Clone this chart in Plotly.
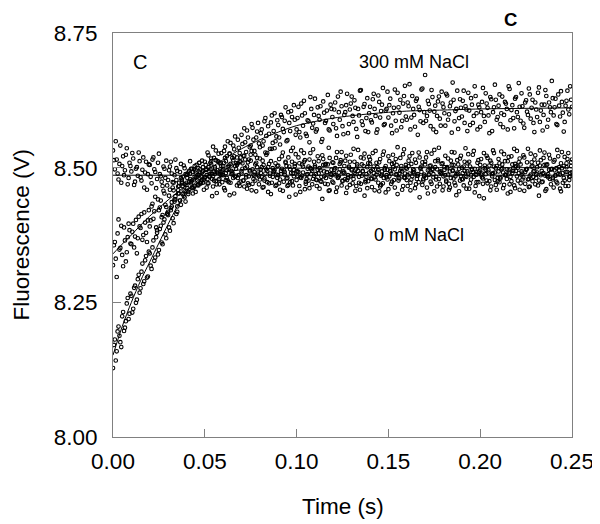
import numpy as np
import plotly.graph_objects as go

# sample times (s): whole-ms samples and half-ms samples
time_s = np.round(np.arange(251) * 0.001, 4)
time_half_s = np.round(np.arange(250) * 0.001 + 0.0005, 4)

# ---- 0 mM NaCl data (V) ----
nacl_0mM = [
    8.128, 8.181, 8.159, 8.205, 8.176, 8.224, 8.197, 8.215, 8.258, 8.229,
    8.262, 8.238, 8.281, 8.255, 8.301, 8.276, 8.322, 8.289, 8.336, 8.298,
    8.341, 8.312, 8.365, 8.333, 8.379, 8.347, 8.392, 8.358, 8.404, 8.369,
    8.412, 8.383, 8.428, 8.397, 8.441, 8.418, 8.452, 8.431, 8.466, 8.445,
    8.472, 8.451, 8.489, 8.463, 8.478, 8.495, 8.468, 8.486, 8.474, 8.501,
    8.482, 8.497, 8.471, 8.509, 8.488, 8.476, 8.514, 8.491, 8.479, 8.503,
    8.486, 8.518, 8.495, 8.473, 8.507, 8.489, 8.521, 8.498, 8.481, 8.512,
    8.493, 8.476, 8.515, 8.502, 8.468, 8.524, 8.497, 8.485, 8.509, 8.491,
    8.517, 8.483, 8.505, 8.528, 8.494, 8.471, 8.512, 8.499, 8.536, 8.487,
    8.504, 8.478, 8.521, 8.495, 8.511, 8.466, 8.502, 8.531, 8.489, 8.507,
    8.493, 8.519, 8.482, 8.506, 8.527, 8.474, 8.498, 8.515, 8.488, 8.534,
    8.501, 8.477, 8.512, 8.495, 8.523, 8.484, 8.507, 8.469, 8.518, 8.496,
    8.509, 8.486, 8.529, 8.491, 8.514, 8.475, 8.503, 8.522, 8.481, 8.511,
    8.497, 8.535, 8.488, 8.506, 8.472, 8.519, 8.494, 8.526, 8.483, 8.508,
    8.515, 8.479, 8.502, 8.531, 8.492, 8.510, 8.468, 8.524, 8.499, 8.486,
    8.521, 8.494, 8.507, 8.477, 8.516, 8.538, 8.489, 8.503, 8.525, 8.481,
    8.498, 8.513, 8.472, 8.527, 8.491, 8.509, 8.485, 8.519, 8.502, 8.476,
    8.511, 8.529, 8.487, 8.504, 8.496, 8.533, 8.478, 8.515, 8.492, 8.507,
    8.484, 8.522, 8.499, 8.470, 8.513, 8.495, 8.528, 8.488, 8.506, 8.517,
    8.479, 8.502, 8.536, 8.493, 8.511, 8.486, 8.524, 8.498, 8.473, 8.514,
    8.505, 8.489, 8.527, 8.496, 8.518, 8.475, 8.509, 8.532, 8.491, 8.503,
    8.516, 8.482, 8.499, 8.525, 8.487, 8.512, 8.469, 8.521, 8.494, 8.507,
    8.531, 8.490, 8.506, 8.478, 8.519, 8.497, 8.535, 8.484, 8.510, 8.493,
    8.523, 8.501, 8.476, 8.514, 8.489, 8.528, 8.505, 8.482, 8.517, 8.498,
    8.511, 8.486, 8.533, 8.495, 8.508, 8.472, 8.520, 8.501, 8.527, 8.490,
    8.515,
]
nacl_0mM_half = [
    8.171, 8.142, 8.196, 8.188, 8.167, 8.232, 8.203, 8.248, 8.219, 8.266,
    8.231, 8.277, 8.249, 8.293, 8.268, 8.307, 8.284, 8.328, 8.296, 8.344,
    8.318, 8.352, 8.327, 8.371, 8.339, 8.386, 8.361, 8.398, 8.376, 8.415,
    8.389, 8.421, 8.406, 8.437, 8.414, 8.458, 8.439, 8.471, 8.448, 8.437,
    8.481, 8.459, 8.474, 8.492, 8.466, 8.483, 8.499, 8.471, 8.491, 8.478,
    8.505, 8.479, 8.493, 8.517, 8.484, 8.498, 8.469, 8.511, 8.487, 8.495,
    8.509, 8.477, 8.501, 8.526, 8.488, 8.514, 8.483, 8.505, 8.471, 8.519,
    8.498, 8.522, 8.486, 8.510, 8.493, 8.531, 8.479, 8.506, 8.518, 8.484,
    8.497, 8.513, 8.476, 8.524, 8.501, 8.489, 8.535, 8.492, 8.508, 8.481,
    8.516, 8.494, 8.528, 8.487, 8.503, 8.519, 8.473, 8.511, 8.496, 8.525,
    8.485, 8.508, 8.532, 8.491, 8.514, 8.479, 8.502, 8.527, 8.494, 8.511,
    8.488, 8.521, 8.499, 8.474, 8.516, 8.505, 8.492, 8.537, 8.483, 8.510,
    8.496, 8.518, 8.481, 8.507, 8.529, 8.490, 8.513, 8.477, 8.502, 8.524,
    8.485, 8.511, 8.498, 8.533, 8.489, 8.506, 8.517, 8.473, 8.501, 8.520,
    8.494, 8.527, 8.482, 8.509, 8.496, 8.516, 8.487, 8.530, 8.503, 8.478,
    8.512, 8.489, 8.524, 8.497, 8.505, 8.481, 8.518, 8.493, 8.534, 8.500,
    8.486, 8.521, 8.507, 8.492, 8.515, 8.479, 8.528, 8.498, 8.510, 8.484,
    8.519, 8.495, 8.503, 8.526, 8.482, 8.512, 8.497, 8.537, 8.489, 8.508,
    8.501, 8.476, 8.517, 8.493, 8.529, 8.505, 8.484, 8.514, 8.498, 8.522,
    8.490, 8.511, 8.483, 8.525, 8.502, 8.496, 8.531, 8.487, 8.509, 8.493,
    8.516, 8.480, 8.504, 8.522, 8.495, 8.513, 8.488, 8.527, 8.499, 8.475,
    8.508, 8.530, 8.491, 8.512, 8.497, 8.520, 8.483, 8.506, 8.535, 8.494,
    8.500, 8.517, 8.486, 8.523, 8.492, 8.510, 8.479, 8.526, 8.503, 8.515,
    8.488, 8.509, 8.532, 8.494, 8.518, 8.485, 8.506, 8.524, 8.497, 8.481,
    8.514, 8.499, 8.521, 8.487, 8.529, 8.503, 8.492, 8.516, 8.483, 8.510,
]

# ---- baseline (flat) data (V) ----
baseline = [
    8.532, 8.497, 8.515, 8.478, 8.541, 8.503, 8.486, 8.524, 8.469, 8.509,
    8.493, 8.517, 8.474, 8.501, 8.528, 8.482, 8.496, 8.463, 8.511, 8.488,
    8.505, 8.471, 8.519, 8.492, 8.479, 8.526, 8.484, 8.466, 8.498, 8.513,
    8.477, 8.502, 8.489, 8.458, 8.515, 8.494, 8.472, 8.507, 8.483, 8.499,
    8.468, 8.491, 8.512, 8.476, 8.497, 8.455, 8.486, 8.509, 8.471, 8.494,
    8.482, 8.463, 8.501, 8.488, 8.447, 8.493, 8.475, 8.512, 8.469, 8.486,
    8.497, 8.458, 8.481, 8.504, 8.472, 8.491, 8.452, 8.485, 8.508, 8.466,
    8.489, 8.476, 8.499, 8.461, 8.484, 8.513, 8.470, 8.492, 8.456, 8.487,
    8.478, 8.501, 8.464, 8.489, 8.473, 8.507, 8.451, 8.483, 8.495, 8.468,
    8.486, 8.459, 8.498, 8.474, 8.509, 8.481, 8.446, 8.490, 8.467, 8.503,
    8.477, 8.492, 8.455, 8.485, 8.511, 8.470, 8.488, 8.462, 8.497, 8.479,
    8.504, 8.466, 8.489, 8.475, 8.442, 8.493, 8.481, 8.506, 8.458, 8.487,
    8.472, 8.499, 8.463, 8.484, 8.510, 8.476, 8.491, 8.453, 8.486, 8.468,
    8.495, 8.479, 8.457, 8.502, 8.483, 8.470, 8.493, 8.448, 8.488, 8.475,
    8.507, 8.464, 8.490, 8.478, 8.501, 8.456, 8.485, 8.471, 8.496, 8.482,
    8.460, 8.493, 8.474, 8.509, 8.487, 8.451, 8.480, 8.498, 8.466, 8.489,
    8.477, 8.503, 8.458, 8.484, 8.495, 8.469, 8.488, 8.445, 8.492, 8.479,
    8.506, 8.463, 8.487, 8.474, 8.498, 8.456, 8.483, 8.512, 8.470, 8.490,
    8.465, 8.486, 8.501, 8.459, 8.481, 8.494, 8.472, 8.449, 8.489, 8.476,
    8.500, 8.467, 8.485, 8.508, 8.461, 8.478, 8.492, 8.454, 8.487, 8.473,
    8.496, 8.482, 8.443, 8.488, 8.471, 8.504, 8.465, 8.490, 8.477, 8.459,
    8.493, 8.480, 8.506, 8.468, 8.486, 8.452, 8.491, 8.475, 8.499, 8.462,
    8.484, 8.510, 8.471, 8.489, 8.457, 8.496, 8.478, 8.465, 8.502, 8.483,
    8.469, 8.491, 8.448, 8.486, 8.474, 8.505, 8.460, 8.488, 8.479, 8.497,
    8.463, 8.485, 8.471, 8.501, 8.456, 8.490, 8.476, 8.508, 8.466, 8.484,
    8.492,
]
baseline_half = [
    8.514, 8.549, 8.489, 8.507, 8.472, 8.521, 8.495, 8.536, 8.481, 8.503,
    8.527, 8.468, 8.498, 8.485, 8.512, 8.476, 8.519, 8.491, 8.459, 8.506,
    8.483, 8.515, 8.497, 8.462, 8.509, 8.488, 8.474, 8.502, 8.481, 8.467,
    8.495, 8.511, 8.473, 8.486, 8.499, 8.465, 8.492, 8.478, 8.504, 8.457,
    8.487, 8.474, 8.498, 8.462, 8.483, 8.505, 8.469, 8.491, 8.477, 8.459,
    8.496, 8.471, 8.484, 8.506, 8.465, 8.489, 8.453, 8.478, 8.497, 8.473,
    8.462, 8.490, 8.476, 8.449, 8.494, 8.481, 8.503, 8.467, 8.486, 8.474,
    8.508, 8.465, 8.482, 8.471, 8.495, 8.458, 8.487, 8.476, 8.501, 8.469,
    8.490, 8.463, 8.480, 8.497, 8.455, 8.485, 8.472, 8.494, 8.466, 8.503,
    8.471, 8.488, 8.457, 8.492, 8.480, 8.468, 8.497, 8.475, 8.484, 8.450,
    8.493, 8.466, 8.481, 8.502, 8.460, 8.487, 8.476, 8.499, 8.469, 8.485,
    8.478, 8.496, 8.461, 8.483, 8.505, 8.470, 8.491, 8.457, 8.488, 8.474,
    8.489, 8.455, 8.482, 8.497, 8.467, 8.493, 8.479, 8.463, 8.500, 8.484,
    8.471, 8.490, 8.466, 8.494, 8.459, 8.485, 8.503, 8.476, 8.462, 8.491,
    8.480, 8.497, 8.458, 8.487, 8.472, 8.465, 8.493, 8.481, 8.454, 8.496,
    8.484, 8.470, 8.501, 8.463, 8.488, 8.476, 8.494, 8.459, 8.482, 8.505,
    8.466, 8.489, 8.478, 8.497, 8.462, 8.485, 8.473, 8.500, 8.468, 8.487,
    8.481, 8.452, 8.495, 8.470, 8.488, 8.501, 8.465, 8.479, 8.493, 8.458,
    8.496, 8.474, 8.487, 8.463, 8.505, 8.480, 8.467, 8.491, 8.456, 8.484,
    8.478, 8.494, 8.461, 8.489, 8.471, 8.498, 8.483, 8.466, 8.492, 8.447,
    8.487, 8.470, 8.499, 8.476, 8.491, 8.458, 8.484, 8.502, 8.468, 8.481,
    8.473, 8.497, 8.462, 8.486, 8.479, 8.495, 8.455, 8.490, 8.467, 8.503,
    8.476, 8.459, 8.493, 8.482, 8.470, 8.498, 8.464, 8.487, 8.475, 8.494,
    8.481, 8.467, 8.504, 8.473, 8.490, 8.457, 8.485, 8.496, 8.469, 8.478,
    8.495, 8.474, 8.488, 8.461, 8.499, 8.481, 8.466, 8.492, 8.477, 8.503,
]

# ---- 300 mM NaCl data (V) ----
nacl_300mM = [
    8.319, 8.362, 8.297, 8.404, 8.351, 8.338, 8.389, 8.326, 8.371, 8.384,
    8.358, 8.396, 8.372, 8.341, 8.409, 8.388, 8.366, 8.417, 8.379, 8.402,
    8.391, 8.428, 8.405, 8.446, 8.384, 8.421, 8.439, 8.412, 8.452, 8.427,
    8.418, 8.459, 8.436, 8.472, 8.447, 8.428, 8.466, 8.481, 8.451, 8.469,
    8.487, 8.455, 8.479, 8.498, 8.463, 8.491, 8.476, 8.509, 8.484, 8.472,
    8.511, 8.486, 8.523, 8.497, 8.479, 8.518, 8.532, 8.495, 8.508, 8.527,
    8.503, 8.539, 8.521, 8.497, 8.546, 8.518, 8.534, 8.508, 8.552, 8.527,
    8.561, 8.522, 8.547, 8.569, 8.515, 8.541, 8.574, 8.531, 8.556, 8.583,
    8.538, 8.571, 8.549, 8.592, 8.527, 8.563, 8.584, 8.546, 8.601, 8.558,
    8.579, 8.543, 8.594, 8.566, 8.612, 8.551, 8.583, 8.605, 8.537, 8.589,
    8.571, 8.613, 8.556, 8.597, 8.624, 8.563, 8.588, 8.547, 8.609, 8.582,
    8.628, 8.571, 8.596, 8.614, 8.553, 8.602, 8.587, 8.635, 8.569, 8.609,
    8.581, 8.621, 8.559, 8.603, 8.641, 8.577, 8.598, 8.616, 8.564, 8.608,
    8.632, 8.585, 8.611, 8.557, 8.597, 8.644, 8.579, 8.618, 8.592, 8.566,
    8.613, 8.584, 8.637, 8.596, 8.571, 8.622, 8.605, 8.648, 8.581, 8.609,
    8.593, 8.628, 8.564, 8.611, 8.587, 8.639, 8.602, 8.575, 8.619, 8.652,
    8.589, 8.614, 8.571, 8.633, 8.598, 8.624, 8.561, 8.607, 8.645, 8.583,
    8.672, 8.596, 8.618, 8.577, 8.631, 8.604, 8.566, 8.623, 8.591, 8.641,
    8.612, 8.578, 8.634, 8.599, 8.621, 8.658, 8.586, 8.609, 8.572, 8.627,
    8.595, 8.643, 8.614, 8.568, 8.606, 8.629, 8.583, 8.651, 8.601, 8.617,
    8.576, 8.622, 8.596, 8.638, 8.611, 8.564, 8.627, 8.603, 8.654, 8.589,
    8.615, 8.581, 8.632, 8.598, 8.619, 8.571, 8.646, 8.607, 8.592, 8.628,
    8.603, 8.657, 8.587, 8.614, 8.574, 8.625, 8.598, 8.636, 8.611, 8.583,
    8.621, 8.594, 8.649, 8.606, 8.569, 8.617, 8.633, 8.589, 8.612, 8.661,
    8.597, 8.628, 8.579, 8.615, 8.642, 8.602, 8.585, 8.624, 8.608, 8.651,
    8.613,
]
nacl_300mM_half = [
    8.356, 8.331, 8.378, 8.348, 8.392, 8.317, 8.365, 8.343, 8.396, 8.359,
    8.381, 8.352, 8.403, 8.369, 8.391, 8.414, 8.375, 8.398, 8.362, 8.421,
    8.402, 8.433, 8.419, 8.389, 8.441, 8.426, 8.408, 8.457, 8.431, 8.414,
    8.448, 8.425, 8.463, 8.441, 8.477, 8.452, 8.439, 8.474, 8.458, 8.488,
    8.462, 8.494, 8.471, 8.452, 8.503, 8.482, 8.467, 8.497, 8.513, 8.478,
    8.496, 8.528, 8.483, 8.512, 8.539, 8.501, 8.491, 8.526, 8.509, 8.487,
    8.531, 8.512, 8.549, 8.526, 8.504, 8.541, 8.558, 8.519, 8.537, 8.511,
    8.544, 8.573, 8.529, 8.556, 8.538, 8.581, 8.552, 8.524, 8.567, 8.545,
    8.564, 8.541, 8.586, 8.559, 8.577, 8.535, 8.597, 8.568, 8.549, 8.588,
    8.556, 8.598, 8.572, 8.587, 8.549, 8.603, 8.568, 8.594, 8.616, 8.561,
    8.592, 8.566, 8.619, 8.578, 8.601, 8.559, 8.586, 8.631, 8.574, 8.598,
    8.567, 8.612, 8.589, 8.548, 8.623, 8.583, 8.606, 8.571, 8.617, 8.594,
    8.608, 8.573, 8.632, 8.589, 8.614, 8.562, 8.603, 8.637, 8.581, 8.619,
    8.596, 8.625, 8.572, 8.609, 8.643, 8.586, 8.613, 8.568, 8.629, 8.601,
    8.588, 8.627, 8.609, 8.565, 8.634, 8.593, 8.617, 8.579, 8.606, 8.641,
    8.616, 8.578, 8.601, 8.645, 8.569, 8.612, 8.626, 8.587, 8.633, 8.595,
    8.621, 8.655, 8.593, 8.609, 8.576, 8.628, 8.613, 8.586, 8.647, 8.603,
    8.587, 8.624, 8.606, 8.644, 8.571, 8.615, 8.596, 8.632, 8.578, 8.619,
    8.601, 8.637, 8.589, 8.614, 8.565, 8.626, 8.605, 8.643, 8.592, 8.611,
    8.624, 8.583, 8.608, 8.639, 8.579, 8.617, 8.596, 8.633, 8.571, 8.612,
    8.603, 8.648, 8.585, 8.619, 8.597, 8.631, 8.568, 8.612, 8.626, 8.594,
    8.636, 8.601, 8.575, 8.622, 8.609, 8.651, 8.588, 8.616, 8.573, 8.631,
    8.594, 8.613, 8.638, 8.582, 8.621, 8.604, 8.647, 8.591, 8.626, 8.566,
    8.608, 8.639, 8.585, 8.617, 8.598, 8.644, 8.576, 8.621, 8.603, 8.629,
    8.612, 8.581, 8.636, 8.595, 8.622, 8.567, 8.615, 8.643, 8.599, 8.626,
]

# ---- fitted curves ----
fit_t = [0.0, 0.005, 0.01, 0.015, 0.02, 0.025, 0.03, 0.035, 0.04, 0.045,
         0.05, 0.06, 0.07, 0.08, 0.09, 0.10, 0.12, 0.14, 0.16, 0.18, 0.20, 0.25]
fit_0mM = [8.152, 8.205, 8.250, 8.290, 8.325, 8.360, 8.395, 8.428, 8.455, 8.473,
           8.484, 8.492, 8.496, 8.498, 8.499, 8.499, 8.500, 8.500, 8.500, 8.500, 8.500, 8.500]
fit_300mM = [8.340, 8.358, 8.375, 8.393, 8.410, 8.425, 8.440, 8.454, 8.468, 8.480,
             8.492, 8.515, 8.535, 8.552, 8.566, 8.578, 8.592, 8.600, 8.605, 8.607, 8.609, 8.611]
baseline_t = [0.0, 0.25]
baseline_level = [8.486, 8.486]

x_ticks = [0.00, 0.05, 0.10, 0.15, 0.20, 0.25]
y_ticks = [8.00, 8.25, 8.50, 8.75]

FONT = "Liberation Sans, Arial, sans-serif"
marker = dict(symbol="circle-open", size=3.6, color="black", line=dict(width=1.1, color="black"))

fig = go.Figure()
for xs, ys in ((time_s, baseline), (time_half_s, baseline_half),
               (time_s, nacl_0mM), (time_half_s, nacl_0mM_half),
               (time_s, nacl_300mM), (time_half_s, nacl_300mM_half)):
    fig.add_trace(go.Scatter(x=xs, y=ys, mode="markers", marker=marker,
                             showlegend=False, hoverinfo="skip"))
for fx, fy in ((fit_t, fit_0mM), (fit_t, fit_300mM), (baseline_t, baseline_level)):
    fig.add_trace(go.Scatter(x=fx, y=fy, mode="lines",
                             line=dict(color="black", width=1, shape="spline", smoothing=0.8),
                             showlegend=False, hoverinfo="skip"))

axis_common = dict(showline=True, mirror=True, linecolor="#808080", linewidth=1,
                   ticks="inside", ticklen=8, tickcolor="#808080", showgrid=False,
                   zeroline=False, automargin=False,
                   tickfont=dict(family=FONT, size=22.5, color="black"),
                   tickformat=".2f")
fig.update_xaxes(range=[0, 0.25], tickvals=x_ticks, ticklabelstandoff=4, **axis_common)
fig.update_yaxes(range=[8.0, 8.75], tickvals=y_ticks, ticklabelstandoff=10, **axis_common)

title_font = dict(family=FONT, size=22.5, color="black")
ann_font = dict(family=FONT, size=18, color="black")


def label(text, x, y, font, **kw):
    return dict(text=text, x=x, y=y, xref="paper", yref="paper", xanchor="center",
                yanchor="middle", showarrow=False, font=font, **kw)


# the page puts the figure 8 px in from the top-left corner, so the figure is
# 592x516 and fills the rest of the 600x524 window
fig.update_layout(
    width=592, height=516,
    margin=dict(l=105, r=28, t=25, b=87),
    paper_bgcolor="white", plot_bgcolor="white",
    annotations=[
        label("Time (s)", 0.501, -0.173, title_font),
        label("Fluorescence (V)", -0.2004, 0.499, title_font, textangle=-90),
        label("C", 0.059, 0.928, dict(family=FONT, size=20, color="black")),
        label("300 mM NaCl", 0.656, 0.928, ann_font),
        label("0 mM NaCl", 0.667, 0.5, ann_font),
        label("<b>C</b>", 0.865, 1.034, dict(family=FONT, size=18.5, color="black")),
    ],
)

fig.write_html("out.html")
